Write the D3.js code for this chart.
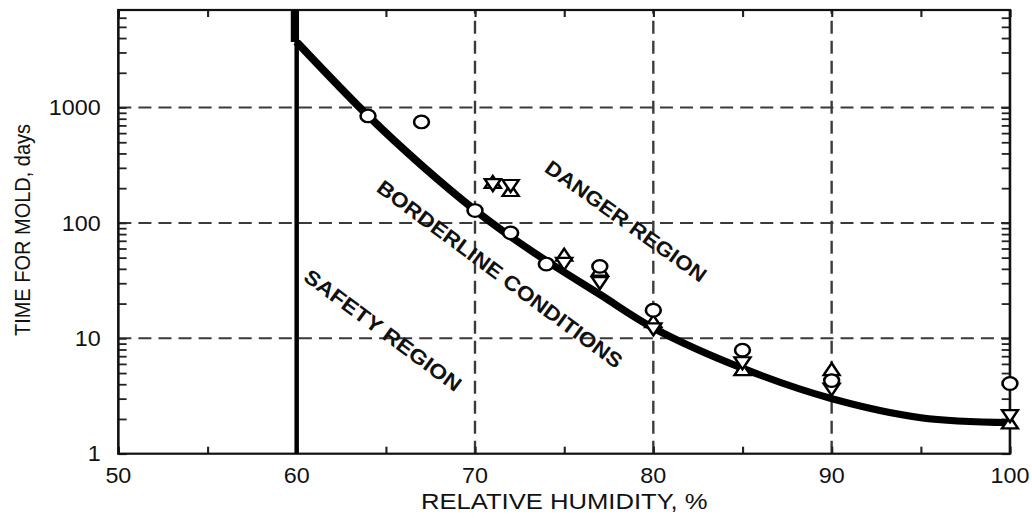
<!DOCTYPE html>
<html><head><meta charset="utf-8">
<script src="https://cdn.jsdelivr.net/npm/d3@7"></script>
<style>body{margin:0;background:#fff}svg{display:block}text{font-family:"Liberation Sans",Arial,sans-serif;fill:#111}</style>
</head><body><svg id="c" width="1032" height="518"></svg>
<script>
// ---- data ----
const xTicks = [50, 60, 70, 80, 90, 100];
const xMinorTicks = [55, 65, 75, 85, 95];
const yTicks = [1, 10, 100, 1000];
const xGrid = [70, 80, 90];
const yGrid = [10, 100, 1000];
const safetyRH = 60;
const curveTopDays = 7000;
const curveRH   = [60, 64, 67, 70, 72, 74, 77, 80, 85, 90, 95, 100];
const curveDays = [3700, 850, 316, 129, 76, 47, 24, 12.3, 5.5, 3.0, 2.05, 1.86];
const circleRH   = [64, 67, 70, 72, 74, 77, 80, 85, 90, 100];
const circleDays = [846, 750, 128, 82, 44, 42, 17.5, 7.9, 4.3, 4.06];
const triUpRH   = [71, 72, 75, 77, 80, 85, 90, 100];
const triUpDays = [222, 189, 52, 38.6, 13.8, 5.3, 5.3, 1.83];
const triDownRH   = [71, 72, 75, 77, 80, 85, 90, 100];
const triDownDays = [217, 213, 45, 30.7, 12.2, 6.2, 3.67, 2.16];
const labels = ["SAFETY REGION", "BORDERLINE CONDITIONS", "DANGER REGION"];
const xTitle = "RELATIVE HUMIDITY, %";
const yTitle = "TIME FOR MOLD, days";

// ---- layout ----
const SX = 1.18;      // horizontal stretch of the whole figure
const TX = 0.92;      // glyph narrowing for text
const svg = d3.select("#c");
const g = svg.append("g").attr("transform", `scale(${SX},1)`);
const L = 100.3, R = 855.9, T = 10, B = 453.7;
const x = d3.scaleLinear().domain([50, 100]).range([L, R]);
const y = d3.scaleLog().domain([1, 7000]).range([B, T]);

// grid
g.selectAll(".hg").data(yGrid).join("line")
  .attr("x1", L).attr("x2", R).attr("y1", d => y(d)).attr("y2", d => y(d))
  .attr("stroke", "#3a3a3a").attr("stroke-width", 2).attr("stroke-dasharray", "11,6");
g.selectAll(".vg").data(xGrid).join("line")
  .attr("y1", B).attr("y2", T).attr("x1", d => x(d)).attr("x2", d => x(d))
  .attr("stroke", "#3a3a3a").attr("stroke-width", 2).attr("stroke-dasharray", "13,7");

// axes (inward ticks)
const tk = 7;
const yMinor = [];
for (let dec = 1; dec <= 1000; dec *= 10) for (let m = 2; m <= 9; m++) if (dec * m < 7000) yMinor.push(dec * m);
g.append("g").attr("transform", `translate(${L},0)`).call(d3.axisRight(y).tickValues(yMinor.concat(yTicks)).tickSize(tk).tickFormat(""));
g.append("g").attr("transform", `translate(${R},0)`).call(d3.axisLeft(y).tickValues(yMinor.concat(yTicks)).tickSize(tk).tickFormat(""));
g.append("g").attr("transform", `translate(0,${B})`).call(d3.axisTop(x).tickValues(xMinorTicks.concat(xTicks)).tickSize(tk).tickFormat(""));
g.append("g").attr("transform", `translate(0,${T})`).call(d3.axisBottom(x).tickValues(xMinorTicks.concat(xTicks)).tickSize(tk).tickFormat(""));
g.selectAll(".domain").remove();
g.selectAll(".tick line").attr("stroke", "#222").attr("stroke-width", 1.8);
g.append("rect").attr("x", L).attr("y", T).attr("width", R - L).attr("height", B - T)
  .attr("fill", "none").attr("stroke", "#111").attr("stroke-width", 2.2);

// tick labels
g.selectAll(".yl").data(yTicks).join("text")
  .attr("transform", d => `translate(${L - 15},${y(d)}) scale(${TX},1)`)
  .attr("text-anchor", "end").attr("dy", "0.36em")
  .attr("font-size", 21.5).text(d => d);
g.selectAll(".xl").data(xTicks).join("text")
  .attr("transform", d => `translate(${x(d)},${B + 29.5}) scale(${TX},1)`)
  .attr("text-anchor", "middle")
  .attr("font-size", 21.5).text(d => d);
g.append("text").attr("transform", `translate(${x(75)},508.5) scale(1.01,1)`)
  .attr("text-anchor", "middle").attr("font-size", 21.5).text(xTitle);
g.append("text").attr("transform", `translate(25,230) scale(${TX},1) rotate(-90)`)
  .attr("text-anchor", "middle").attr("font-size", 20).text(yTitle);

// safety line
g.append("line").attr("x1", x(safetyRH)).attr("x2", x(safetyRH)).attr("y1", B).attr("y2", T)
  .attr("stroke", "#000").attr("stroke-width", 3.8);

// boundary curve
g.append("line").attr("x1", x(safetyRH) - 1.5).attr("x2", x(safetyRH) - 1.5)
  .attr("y1", y(curveTopDays)).attr("y2", y(curveDays[0]))
  .attr("stroke", "#000").attr("stroke-width", 7);
const pts = curveRH.map((d, i) => [x(d), y(curveDays[i])]);
g.append("path").attr("d", d3.line().curve(d3.curveCatmullRom.alpha(0.5))(pts))
  .attr("fill", "none").attr("stroke", "#000").attr("stroke-width", 7).attr("stroke-linejoin", "round");

// markers
const mk = { fill: "#fff", stroke: "#000", sw: 2.2 };
g.selectAll(".tu").data(triUpRH).join("path")
  .attr("transform", (d, i) => `translate(${x(d)},${y(triUpDays[i])})`)
  .attr("d", "M0,-7L6.8,5L-6.8,5Z").attr("fill", mk.fill).attr("stroke", mk.stroke).attr("stroke-width", mk.sw);
g.selectAll(".td").data(triDownRH).join("path")
  .attr("transform", (d, i) => `translate(${x(d)},${y(triDownDays[i])})`)
  .attr("d", "M0,7L6.8,-5L-6.8,-5Z").attr("fill", mk.fill).attr("stroke", mk.stroke).attr("stroke-width", mk.sw);
g.selectAll(".ci").data(circleRH).join("circle")
  .attr("cx", d => x(d)).attr("cy", (d, i) => y(circleDays[i])).attr("r", 6.3)
  .attr("fill", mk.fill).attr("stroke", mk.stroke).attr("stroke-width", mk.sw);

// region labels (drawn in page coordinates, unsheared)
const lab = [
  { t: labels[0], cx: 383, cy: 330, a: 36.5, len: 190 },
  { t: labels[1], cx: 500, cy: 274, a: 36.6, len: 300 },
  { t: labels[2], cx: 626, cy: 221, a: 35.6, len: 193 }
];
svg.selectAll(".rl").data(lab).join("text")
  .attr("transform", d => `translate(${d.cx},${d.cy}) rotate(${d.a})`)
  .attr("text-anchor", "middle").attr("dy", "0.36em").attr("font-size", 20.5).attr("font-weight", "bold")
  .attr("textLength", d => d.len).attr("lengthAdjust", "spacingAndGlyphs")
  .text(d => d.t);
</script></body></html>
